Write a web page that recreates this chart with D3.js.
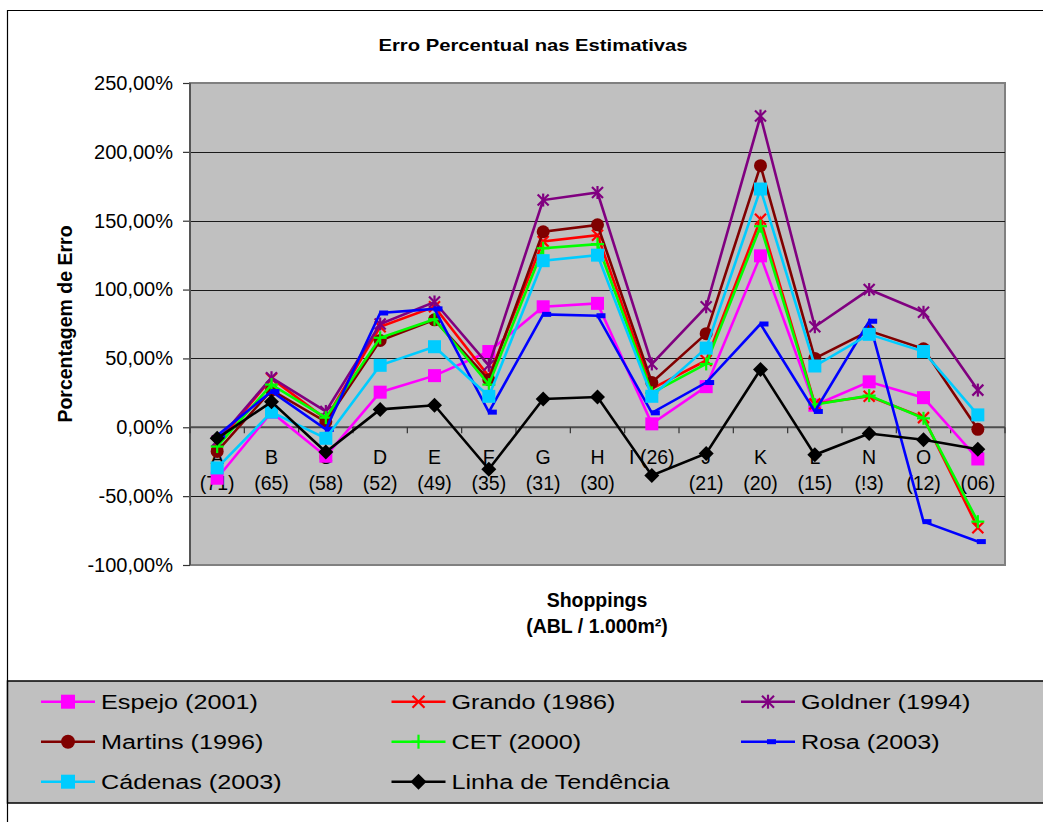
<!DOCTYPE html>
<html>
<head>
<meta charset="utf-8">
<script src="https://cdn.jsdelivr.net/npm/d3@7"></script>
<style>
  html, body { margin: 0; padding: 0; background: #ffffff; }
  svg { display: block; font-family: "Liberation Sans", Arial, sans-serif; }
</style>
</head>
<body>
<svg id="chart" width="1043" height="822"></svg>
<script>
// Shopping centres (ordered by gross leasable area, ABL / 1.000 m²)
const categories = ["A", "B", "C", "D", "E", "F", "G", "H", "I", "J", "K", "L", "N", "O", "P"];
const tickLine1 = ["A", "B", "C", "D", "E", "F", "G", "H", "I (26)", "J", "K", "L", "N", "O", "P"];
const tickLine2 = ["(71)", "(65)", "(58)", "(52)", "(49)", "(35)", "(31)", "(30)", "", "(21)", "(20)", "(15)", "(!3)", "(12)", "(06)"];

// Percentage error of each estimation model
const espejo   = [-37, 11, -21, 25.5, 37.5, 55, 87.5, 90, 2.5, 29.5, 124.5, 16, 33, 21.5, -23];
const grando   = [-12, 35.5, 6, 73, 87.5, 37, 135, 139.5, 28, 48.5, 151, 17, 22.5, 7, -73];
const goldner  = [-10, 36, 11.5, 75, 91, 45, 165, 170.5, 46, 87.5, 226, 73, 100, 83.5, 27];
const martins  = [-17.5, 27, 4, 63, 78, 34.5, 142, 147, 32.5, 68, 190, 50, 70, 57, -1.5];
const cet      = [-14, 31, 7, 65, 78.5, 31, 130, 133, 25, 46, 146, 16.5, 23, 6.5, -68.5];
const rosa     = [-6, 26, -1.5, 83, 86, 11, 82, 81, 10.5, 32.5, 75, 11.5, 77, -68.5, -83];
const cadenas  = [-29.5, 11, -8, 45, 58.5, 22.5, 121, 125, 22.5, 57.5, 173, 44.5, 67.5, 55, 9];
const tendencia = [-8, 18.5, -18, 13, 16, -30.5, 20.5, 22, -35, -19, 42, -20, -4.5, -9, -16];

const yTicks = [-100, -50, 0, 50, 100, 150, 200, 250];

const seriesNames  = ["Espejo (2001)", "Grando (1986)", "Goldner (1994)", "Martins (1996)", "CET (2000)", "Rosa (2003)", "Cádenas (2003)", "Linha de Tendência"];
const seriesValues = [espejo, grando, goldner, martins, cet, rosa, cadenas, tendencia];
const seriesColors = ["#ff00ff", "#ff0000", "#800080", "#800000", "#00ff00", "#0000ff", "#00ccff", "#000000"];
const seriesMarkers = ["square", "x", "star", "circle", "plus", "dash", "square", "diamond"];

const svg = d3.select("#chart");

// chart frame
svg.append("path")
  .attr("d", "M7.5,822 V10.5 H1043")
  .attr("fill", "none").attr("stroke", "#000").attr("stroke-width", 1.2);

const plot = { left: 190, right: 1005, top: 83, bottom: 565 };

const x = d3.scaleBand().domain(categories).range([plot.left, plot.right]).padding(0);
const cx = c => x(c) + x.bandwidth() / 2;
const y = d3.scaleLinear().domain([-100, 250]).range([plot.bottom, plot.top]);

const ptBR = d3.formatLocale({ decimal: ",", thousands: ".", grouping: [3], currency: ["R$", ""], minus: "-" });
const fmt = ptBR.format(".2f");

// plot background
svg.append("rect")
  .attr("x", plot.left).attr("y", plot.top)
  .attr("width", plot.right - plot.left).attr("height", plot.bottom - plot.top)
  .attr("fill", "#c0c0c0").attr("stroke", "#808080").attr("stroke-width", 2);

// horizontal gridlines
svg.append("g").selectAll("line")
  .data(yTicks.filter(v => v > -100 && v < 250 && v !== 0))
  .join("line")
  .attr("x1", plot.left).attr("x2", plot.right)
  .attr("y1", d => Math.round(y(d)) + 0.5).attr("y2", d => Math.round(y(d)) + 0.5)
  .attr("stroke", "#1a1a1a").attr("stroke-width", 1);

// y axis
const yAxis = svg.append("g")
  .attr("transform", `translate(${plot.left},0)`)
  .call(d3.axisLeft(y).tickValues(yTicks).tickSize(7).tickPadding(10).tickFormat(d => fmt(d) + "%"));
yAxis.select(".domain").remove();
yAxis.selectAll(".tick line").attr("stroke", "#333").attr("stroke-width", 1.2);
yAxis.selectAll(".tick text").attr("font-size", 20).attr("fill", "#000")
  .attr("font-family", "'Liberation Sans', Arial, sans-serif");
svg.append("line")
  .attr("x1", plot.left).attr("x2", plot.left).attr("y1", plot.top).attr("y2", plot.bottom)
  .attr("stroke", "#555").attr("stroke-width", 2);

// category axis crossing at zero
const y0 = y(0);
svg.append("line")
  .attr("x1", plot.left).attr("x2", plot.right).attr("y1", y0).attr("y2", y0)
  .attr("stroke", "#4d4d4d").attr("stroke-width", 2);
const bounds = categories.map(c => x(c)).concat([plot.right]);
svg.append("g").selectAll("line").data(bounds).join("line")
  .attr("x1", d => d).attr("x2", d => d).attr("y1", y0).attr("y2", y0 + 6)
  .attr("stroke", "#333").attr("stroke-width", 1.2);

const xl = svg.append("g").attr("font-size", 19.5).attr("text-anchor", "middle").attr("fill", "#000");
categories.forEach((c, i) => {
  const t = xl.append("text").attr("x", cx(c)).attr("y", y0 + 37);
  t.append("tspan").attr("x", cx(c)).text(tickLine1[i]);
  if (tickLine2[i]) t.append("tspan").attr("x", cx(c)).attr("dy", 26).text(tickLine2[i]);
});

// marker symbols
function drawMarker(g, type, px, py, color, s) {
  const h = s / 2;
  if (type === "square") {
    g.append("rect").attr("x", px - h).attr("y", py - h).attr("width", s).attr("height", s).attr("fill", color);
  } else if (type === "circle") {
    g.append("circle").attr("cx", px).attr("cy", py).attr("r", h).attr("fill", color);
  } else if (type === "diamond") {
    const d = h + 1;
    g.append("path").attr("d", `M${px},${py - d}L${px + d},${py}L${px},${py + d}L${px - d},${py}Z`).attr("fill", color);
  } else if (type === "dash") {
    g.append("rect").attr("x", px - 1).attr("y", py - 2.5).attr("width", 9).attr("height", 5).attr("fill", color);
  } else {
    const k = h - 1;
    const segs = [];
    if (type === "x" || type === "star") segs.push([px - k, py - k, px + k, py + k], [px - k, py + k, px + k, py - k]);
    if (type === "plus") segs.push([px - h, py, px + h, py], [px, py - h, px, py + h]);
    if (type === "star") segs.push([px, py - h, px, py + h]);
    segs.forEach(sg => g.append("line")
      .attr("x1", sg[0]).attr("y1", sg[1]).attr("x2", sg[2]).attr("y2", sg[3])
      .attr("stroke", color).attr("stroke-width", 2.2));
  }
}

// series
const line = d3.line().x((d, i) => cx(categories[i])).y(d => y(d));
seriesValues.forEach((vals, si) => {
  const g = svg.append("g");
  g.append("path").datum(vals).attr("d", line)
    .attr("fill", "none").attr("stroke", seriesColors[si]).attr("stroke-width", 2.6)
    .attr("stroke-linejoin", "miter");
  vals.forEach((v, i) => drawMarker(g, seriesMarkers[si], cx(categories[i]), y(v), seriesColors[si], 13));
});

// wide-set text: horizontally scaled glyphs
function wideText(px, py, sx, size) {
  return svg.append("text")
    .attr("transform", `translate(${px},${py}) scale(${sx},1)`)
    .attr("font-size", size).attr("fill", "#000");
}

// titles
wideText(533, 51, 1.19, 17).attr("text-anchor", "middle").attr("font-weight", "bold")
  .text("Erro Percentual nas Estimativas");

svg.append("text").attr("x", 597).attr("y", 607).attr("text-anchor", "middle")
  .attr("font-size", 19.5).attr("font-weight", "bold").text("Shoppings");
svg.append("text").attr("x", 597).attr("y", 633).attr("text-anchor", "middle")
  .attr("font-size", 19.5).attr("font-weight", "bold").text("(ABL / 1.000m²)");

svg.append("text").attr("transform", "translate(72,324) rotate(-90)").attr("text-anchor", "middle")
  .attr("font-size", 19.5).attr("font-weight", "bold").text("Porcentagem de Erro");

// legend
svg.append("rect").attr("x", 7.5).attr("y", 681).attr("width", 1060).attr("height", 122)
  .attr("fill", "#c0c0c0").attr("stroke", "#000").attr("stroke-width", 1.5);
const colX = [41, 391.5, 741];
const rowY = [701.7, 741.7, 781.7];
seriesNames.forEach((name, i) => {
  const lx = colX[i % 3], ly = rowY[Math.floor(i / 3)];
  const g = svg.append("g");
  g.append("line").attr("x1", lx).attr("x2", lx + 54).attr("y1", ly).attr("y2", ly)
    .attr("stroke", seriesColors[i]).attr("stroke-width", 2.6);
  drawMarker(g, seriesMarkers[i], lx + 27, ly, seriesColors[i], 14);
  wideText(lx + 60, ly + 7, 1.2, 21).text(name);
});
</script>
</body>
</html>
